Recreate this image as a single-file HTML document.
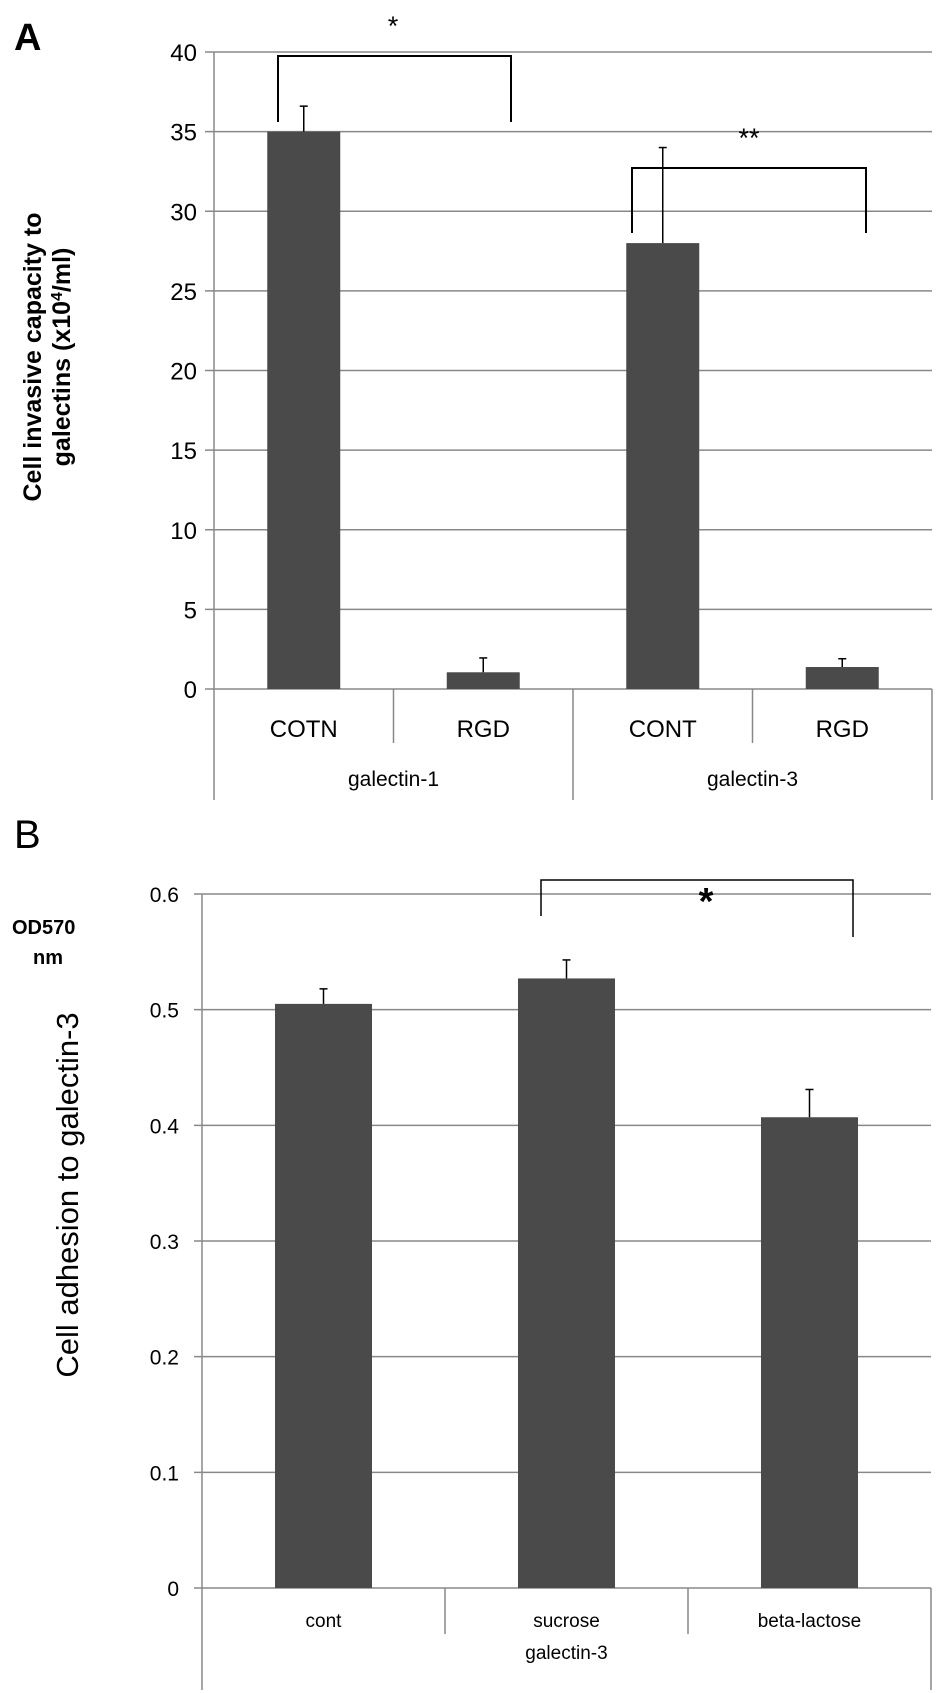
<!DOCTYPE html>
<html><head><meta charset="utf-8"><style>
body{margin:0;background:#fff;}
svg{display:block;font-family:"Liberation Sans",Arial,sans-serif;}
</style></head><body>
<svg id="s" width="945" height="1693" viewBox="0 0 945 1693">
<text x="14" y="50" font-size="38" font-weight="bold">A</text>
<text x="14" y="848" font-size="40">B</text>
<g transform="translate(41,357) rotate(-90)">
<text x="0" y="0" font-size="25" font-weight="bold" text-anchor="middle">Cell  invasive capacity to</text>
<text x="0" y="29" font-size="25" font-weight="bold" text-anchor="middle">galectins (x10<tspan font-size="16" dy="-8">4</tspan><tspan dy="8">/ml)</tspan></text>
</g>
<text x="12" y="934" font-size="20" font-weight="bold">OD570</text>
<text x="33" y="964" font-size="20" font-weight="bold">nm</text>
<text transform="translate(78,1195) rotate(-90)" font-size="31" text-anchor="middle">Cell adhesion to galectin-3</text>
<g id="ga"></g><g id="gb"></g>
</svg>
<script>
const catsA=["COTN","RGD","CONT","RGD"];
const valsA=[35,1.05,28,1.38];
const errA=[1.6,0.9,6,0.52];
const groupsA=["galectin-1","galectin-3"];
const ticksA=[0,5,10,15,20,25,30,35,40];
const catsB=["cont","sucrose","beta-lactose"];
const valsB=[0.505,0.527,0.407];
const errB=[0.013,0.016,0.024];
const groupsB=["galectin-3"];
const ticksB=[0,0.1,0.2,0.3,0.4,0.5,0.6];
const NS="http://www.w3.org/2000/svg";
function mk(p,t,a){const e=document.createElementNS(NS,t);for(const k in a)e.setAttribute(k,a[k]);p.appendChild(e);return e;}
// Panel A
const ga=document.getElementById('ga');
const aX0=214,aX1=932,aY0=689,aY1=52,aMax=40;
const ya=v=>aY0-(v/aMax)*(aY0-aY1);
const bwA=(aX1-aX0)/catsA.length;
const xa=i=>aX0+bwA*(i+0.5);
ticksA.forEach(t=>{
 const l=mk(ga,'line',{x1:205,x2:aX1,y1:ya(t),y2:ya(t),stroke:'#888','stroke-width':1.5});
 
 
 const tx=mk(ga,'text',{x:197,y:ya(t)+9,'font-size':24,'text-anchor':'end'});tx.textContent=t;
 
 
});
mk(ga,'line',{x1:aX0,x2:aX0,y1:aY1,y2:800,stroke:'#888','stroke-width':1.5});
catsA.forEach((c,i)=>{
 const w=73;
 const r=mk(ga,'rect',{x:xa(i)-w/2,y:ya(valsA[i]),width:w,height:aY0-ya(valsA[i]),fill:'#4a4a4a'});
 
 
 mk(ga,'line',{x1:xa(i),x2:xa(i),y1:ya(valsA[i]),y2:ya(valsA[i]+errA[i]),stroke:'#000','stroke-width':1.5});
 mk(ga,'line',{x1:xa(i)-4,x2:xa(i)+4,y1:ya(valsA[i]+errA[i]),y2:ya(valsA[i]+errA[i]),stroke:'#000','stroke-width':1.5});
 const t=mk(ga,'text',{x:xa(i),y:737,'font-size':24,'text-anchor':'middle'});t.textContent=c;
 
 
 const bx=aX0+bwA*(i+1);
 mk(ga,'line',{x1:bx,x2:bx,y1:aY0,y2:(i%2==1)?800:743,stroke:'#888','stroke-width':1.5});
});
groupsA.forEach((g,j)=>{
 const t=mk(ga,'text',{x:aX0+bwA*(2*j+1),y:786,'font-size':21,'text-anchor':'middle'});t.textContent=g;
 
 
});
mk(ga,'path',{d:'M278 122 V56 H511 V122',fill:'none',stroke:'#000','stroke-width':2});
mk(ga,'path',{d:'M632 233 V168 H866 V233',fill:'none',stroke:'#000','stroke-width':2});
let s1=mk(ga,'text',{x:393,y:35,'font-size':27,'text-anchor':'middle'});s1.textContent='*';


let s2=mk(ga,'text',{x:749,y:147,'font-size':27,'text-anchor':'middle'});s2.textContent='**';


// Panel B
const gb=document.getElementById('gb');
const bX0=202,bX1=931,bY0=1588,bY1=894,bMax=0.6;
const yb=v=>bY0-(v/bMax)*(bY0-bY1);
const bwB=(bX1-bX0)/catsB.length;
const xb=i=>bX0+bwB*(i+0.5);
ticksB.forEach(t=>{
 const l=mk(gb,'line',{x1:194,x2:bX1,y1:yb(t),y2:yb(t),stroke:'#888','stroke-width':1.5});
 
 
 const tx=mk(gb,'text',{x:179,y:yb(t)+8,'font-size':21,'text-anchor':'end'});tx.textContent=t===0?'0':t.toFixed(1);
 
 
});
mk(gb,'line',{x1:bX0,x2:bX0,y1:bY1,y2:1690,stroke:'#888','stroke-width':1.5});
mk(gb,'line',{x1:bX1,x2:bX1,y1:bY0,y2:1690,stroke:'#888','stroke-width':1.5});
catsB.forEach((c,i)=>{
 const w=97;
 const r=mk(gb,'rect',{x:xb(i)-w/2,y:yb(valsB[i]),width:w,height:bY0-yb(valsB[i]),fill:'#4a4a4a'});
 
 
 const top=yb(valsB[i]+errB[i]);
 mk(gb,'line',{x1:xb(i),x2:xb(i),y1:yb(valsB[i]),y2:top,stroke:'#000','stroke-width':1.5});
 mk(gb,'line',{x1:xb(i)-4,x2:xb(i)+4,y1:top,y2:top,stroke:'#000','stroke-width':1.5});
 const t=mk(gb,'text',{x:xb(i),y:1627,'font-size':19,'text-anchor':'middle'});t.textContent=c;
 
 
 if(i<catsB.length-1){const bx=bX0+bwB*(i+1);mk(gb,'line',{x1:bx,x2:bx,y1:bY0,y2:1634,stroke:'#888','stroke-width':1.5});}
});
groupsB.forEach(g=>{
 const t=mk(gb,'text',{x:(bX0+bX1)/2,y:1659,'font-size':19,'text-anchor':'middle'});t.textContent=g;
 
 
});
mk(gb,'path',{d:'M541 916 V880 H853 V937',fill:'none',stroke:'#000','stroke-width':1.5});
let s3=mk(gb,'text',{x:706,y:914,'font-size':38,'font-weight':'bold','text-anchor':'middle'});s3.textContent='*';


</script>
</body></html>
